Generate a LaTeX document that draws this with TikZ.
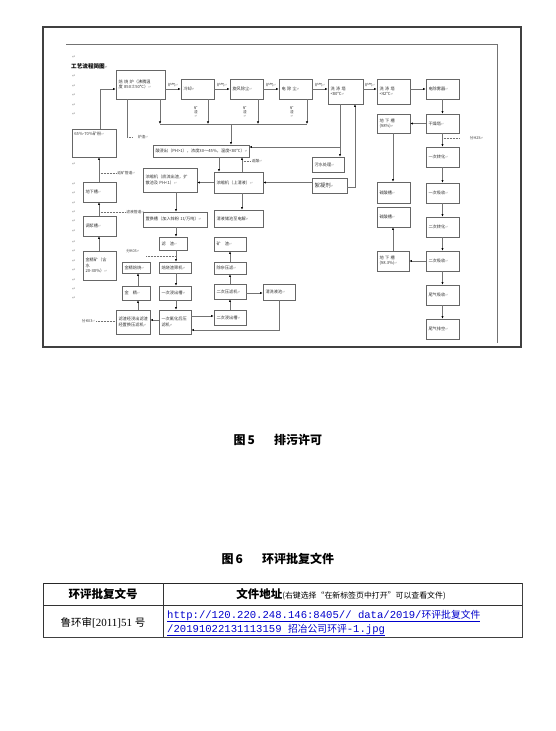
\documentclass[tikz,border=0pt]{standalone}
\usepackage{fontspec}
\setmainfont{Liberation Serif}
\setmonofont{Liberation Mono}
\newfontfamily\cjk{Noto Sans CJK SC}
\newfontfamily\dv{DejaVu Sans}
\usetikzlibrary{arrows.meta}
\newcommand\rt{{\dv\fontsize{3.4}{4}\selectfont\color{black!45}↵}}
\newcommand\rtm{{\dv\fontsize{4.5}{5}\selectfont\color{black!40}↵}}
\tikzset{
 bx/.style={draw=black!60, line width=0.7pt, fill=white, inner sep=0.4pt,
   font=\cjk\fontsize{4.2}{5.2}\selectfont, align=left, text=black!80},
 ar/.style={draw=black!55, line width=0.6pt, -{Latex[length=2.6pt,width=2.3pt,color=black]}},
 ln/.style={draw=black!55, line width=0.6pt},
 dl/.style={draw=black!55, line width=0.5pt, densely dotted},
 lb/.style={font=\cjk\fontsize{3.8}{4.5}\selectfont, text=black!75, inner sep=0.5pt},
 captn/.style={font=\cjk\bfseries\fontsize{12}{14}\selectfont, inner sep=0pt},
 tl/.style={draw=black!80, line width=0.5pt},
}
\newcommand\bxn[6]{\node[bx,minimum width={(#4-#2)*1pt},minimum height={(#5-#3)*1pt},text width={(#4-#2-5)*1pt}] (#1) at ({(#2+#4)/2},{(#3+#5)/2}) {#6};}
\begin{document}
\begin{tikzpicture}[x=1pt,y=-1pt]
\useasboundingbox (0,0) rectangle (555,731);
\fill[white] (0,0) rectangle (555,731);
% frame of the embedded figure
\draw[black!75, line width=1.1pt] (43,27) rectangle (521,347);
\draw[black!55, line width=0.6pt] (66,44) -- (497,44) -- (497,343);
% return marks on the left margin
\foreach \yy in {57,76,86,95,105,114,164,184,193,203,212,221,231,242,251,261,270,280,289,298}
  \node[inner sep=0pt] at (74,\yy) {\rtm};
\node[font=\cjk\bfseries\fontsize{5.6}{6.5}\selectfont, anchor=west, inner sep=0pt] (title) at (71,66) {工艺流程简图\rt};

% ---- boxes ----
\bxn{fsl}{116}{70}{165}{99}{焙 烧 炉（沸腾温\\度 850±50℃）\rt}
\bxn{lq}{181}{79}{214}{99}{冷却\rt}
\bxn{xf}{230}{79}{263}{99}{旋风除尘\rt}
\bxn{dc}{279}{79}{312}{99}{电 除 尘\rt}
\bxn{xda}{328}{79}{363}{104}{洗 涤 塔\\<80℃\rt}
\bxn{xdb}{377}{79}{410}{104}{洗 涤 塔\\<42℃\rt}
\bxn{dcw}{426}{79}{459}{99}{电除雾器\rt}
\bxn{gz}{426}{114}{459}{133}{干燥塔\rt}
\bxn{dxa}{377}{114}{410}{133}{地 下 槽\\(98\%)\rt}
\bxn{zha}{426}{147}{459}{167}{一次转化\rt}
\bxn{xsa}{426}{183}{459}{203}{一次吸收\rt}
\bxn{zhb}{426}{217}{459}{237}{二次转化\rt}
\bxn{xsb}{426}{251}{459}{271}{二次吸收\rt}
\bxn{dxb}{377}{251}{409}{271}{地 下 槽\\(98.3\%)\rt}
\bxn{wq}{426}{285}{459}{305}{尾气吸收\rt}
\bxn{wp}{426}{319}{459}{339}{尾气排空\rt}
\bxn{lca}{377}{182}{410}{203}{硫酸槽\rt}
\bxn{lcb}{377}{207}{410}{227}{硫酸槽\rt}
\bxn{ws}{312}{157}{344}{172}{污水处理\rt}
\bxn{xn}{312}{178}{347}{193}{\fontsize{5.4}{6}\selectfont 絮凝剂\rt}
\bxn{fg}{153}{145}{249}{157}{酸浸出（PH>1），浓度30～45\%，温度<80℃）\rt}
\bxn{ns}{214}{172}{263}{193}{浓缩机（上清液）\rt}
\bxn{dj}{143}{168}{197}{192}{浓缩机（底流出渣，扩\\散池及 PH<1）\rt}
\bxn{cq}{214}{210}{263}{227}{清液储池至电解\rt}
\bxn{zhc}{143}{212}{207}{227}{置换槽（加入锌粉 1t/万吨）\rt}
\bxn{lz}{159}{237}{187}{250}{滤　渣\rt}
\bxn{ss}{159}{262}{191}{273}{焙烧渣筛机\rt}
\bxn{jjb}{122}{262}{150}{273}{金精焙烧\rt}
\bxn{jj}{122}{286}{150}{300}{金　精\rt}
\bxn{jca}{159}{286}{191}{300}{一次浸出槽\rt}
\bxn{lzs}{116}{310}{150}{334}{滤渣经浸出滤渣\\经置换压滤机\rt}
\bxn{yla}{159}{310}{191}{334}{一次氰化后压\\滤机\rt}
\bxn{jcb}{214}{310}{246}{325}{二次浸出槽\rt}
\bxn{ylb}{214}{284}{246}{299}{二次压滤机\rt}
\bxn{cz}{214}{262}{246}{274}{除杂压滤\rt}
\bxn{kz}{214}{237}{246}{251}{矿　渣\rt}
\bxn{qx}{263}{284}{295}{300}{清洗液池\rt}
\bxn{m65}{72}{129}{116}{157}{}
\node[lb, font=\cjk\fontsize{4.2}{5}\selectfont, anchor=north west] (m65t) at ([xshift=2pt,yshift=-3pt]m65.north west) {65\%-70\%矿粉\rt};
\bxn{dxc}{83}{182}{116}{202}{地下槽\rt}
\bxn{tj}{83}{216}{116}{236}{调浆槽\rt}
\bxn{jjk}{83}{251}{116}{280}{金精矿（含\\水\\20-30\%）\rt}

% ---- helper coordinates ----
\coordinate (a1) at (100,89);
\coordinate (k1) at (160,124); \coordinate (k2) at (208,124);
\coordinate (k3) at (258,124); \coordinate (k4) at (307,124);
\coordinate (k5) at (231,124);
\coordinate (s1) at (127,137);
\coordinate (w1) at (340,147); \coordinate (w2) at (355,187);
\coordinate (f1) at (219,160); \coordinate (f2) at (242,161);
\coordinate (c1) at (176,200); \coordinate (c2) at (176,256);
\coordinate (d1) at (99,173); \coordinate (d2) at (99,212);
\coordinate (l1) at (150,320); \coordinate (l2) at (138,305);
\coordinate (q1) at (279,330);
\coordinate (y1) at (230,316); \coordinate (y2) at (255,293);
\coordinate (r1) at (442,138); \coordinate (r2) at (393,150);
\coordinate (t1) at (96,321);

% ---- top row ----
\draw[ar] (m65.north -| a1) -- (a1) -- (fsl.west |- a1);
\draw[ar] (fsl.east |- lq.west) -- (lq.west) node[lb, midway, above=1.5pt] {炉气\rt};
\draw[ar] (lq.east) -- (xf.west) node[lb, midway, above=1.5pt] {炉气\rt};
\draw[ar] (xf.east) -- (dc.west) node[lb, midway, above=1.5pt] {炉气\rt};
\draw[ar] (dc.east) -- (dc.east -| xda.west) node[lb, midway, above=1.5pt] {炉气\rt};
\draw[ar] (xda.east |- dc.east) -- (xdb.west |- dc.east) node[lb, midway, above=1.5pt] {炉气\rt};
\draw[ar] (xdb.east |- dcw.west) -- (dcw.west);
\draw[ar] (dcw.south) -- (gz.north);
\draw[ar] (gz.west) -- (dxa.east);
\draw[ar] (gz.south) -- (zha.north);
\draw[dl] (r1) -- (460,138) node[lb, right=9pt] {分H2S\rt};
\draw[ar] (zha.south) -- (xsa.north);
\draw[ar] (xsa.south) -- (zhb.north);
\draw[ar] (zhb.south) -- (xsb.north);
\draw[ar] (xsb.south) -- (wq.north);
\draw[ar] (wq.south) -- (wp.north);
\draw[ar] (xsb.west) -- (dxb.east);
\draw[ar] (dxa.south -| r2) -- (lca.north -| r2);
\draw[ar] (dxb.north -| r2) -- (lcb.south -| r2);

% ---- slag collection ----
\draw[ar] (fsl.south -| k1) -- (k1);
\draw[ar] (lq.south -| k2) -- (k2);
\draw[ar] (xf.south -| k3) -- (k3);
\draw[ar] (dc.south -| k4) -- (k4);
\draw[ln] (k1) -- (k4);
\draw[ar] (k5) -- (k5 |- fg.north);
\node[lb, align=center, font=\cjk\fontsize{3.6}{4}\selectfont] at (196,112) {矿\\渣\\\rt};
\node[lb, align=center, font=\cjk\fontsize{3.6}{4}\selectfont] at (245,112) {矿\\渣\\\rt};
\node[lb, align=center, font=\cjk\fontsize{3.6}{4}\selectfont] at (292,112) {矿\\渣\\\rt};
\draw[ln] (fsl.south -| s1) -- (s1);
\draw[dl] (s1) -- ++(6,0) node[lb, right=4pt] {炉渣\rt};

% ---- washing water ----
\draw[ln] (xda.south -| w1) -- (w1);
\draw[ar] (w1) -- (fg.east |- w1);
\draw[ar] (w1) -- (w1 |- ws.north);
\draw[ar] (xn.east |- w2) -- (w2) -- (w2 |- xda.south);
\draw[ar] (xn.west |- ns.east) -- (ns.east);

% ---- leaching ----
\draw[ar] (fg.south -| f1) -- (ns.north -| f1);
\draw[ar] (ns.north -| f2) -- (fg.south -| f2);
\draw[dl] (f2) -- ++(8,0) node[lb, right=1pt] {返酸\rt};
\draw[ar] (ns.west) -- (dj.east |- ns.west);
\draw[ar] (ns.south -| f2) -- (cq.north -| f2);
\draw[ar] (dj.south -| c1) -- (zhc.north -| c1);
\draw[ar] (zhc.south -| c1) -- (lz.north -| c1);
\draw[ar] (lz.south -| c1) -- (ss.north -| c1);
\draw[dl] (146,256) -- (c2);
\node[lb] at (133,251) {分K03\rt};
\draw[ar] (ss.south -| c1) -- (jca.north -| c1);
\draw[ar] (jca.south -| c1) -- (yla.north -| c1);
\draw[ar] (yla.west |- l1) -- (lzs.east |- l1);
\draw[ar] (lzs.north -| l2) -- (jj.south -| l2);
\draw[ar] (jj.north -| l2) -- (jjb.south -| l2);
\draw[dl] (t1) -- (lzs.west |- t1);
\node[lb, anchor=east] at (t1) {分K03\rt};
\draw[ar] (yla.east |- y1) -- (jcb.west |- y1);
\draw[ar] (jcb.north) -- (ylb.south);
\draw[ar] (ylb.north) -- (cz.south);
\draw[ar] (cz.north) -- (kz.south);
\draw[ar] (ylb.east |- y2) -- (qx.west |- y2);
\draw[ar] (qx.south -| q1) -- (q1) -- (yla.east |- q1);

% ---- left column ----
\draw[ar] (dxc.north -| d1) -- (m65.south -| d1);
\draw[ar] (tj.north -| d1) -- (dxc.south -| d1);
\draw[ar] (jjk.north -| d1) -- (tj.south -| d1);
\draw[dl] (d1) -- ++(17,0) node[lb, right=0.5pt] {返矿管道\rt};
\draw[dl] (d2) -- ++(26,0) node[lb, right=0.5pt] {滤液管道\rt};

% ---- captions ----
\node[captn] (cap5) at (278,440) {图\,5\hspace{1.6em}排污许可};
\node[captn] (cap6) at (278,559) {图\,6\hspace{1.6em}环评批复文件};

% ---- table ----
\draw[black!85, line width=0.9pt] (43,583) -- (522,583);
\draw[tl] (43,583) -- (43,637);
\draw[black!75, line width=1pt] (43,637) -- (522,637) -- (522,583);
\draw[tl] (43,605) -- (522,605);
\draw[tl] (163,583) -- (163,637);
\node[font=\cjk\bfseries\fontsize{11.5}{13}\selectfont, inner sep=0pt] (th1) at (103,594) {环评批复文号};
\node[inner sep=0pt] (th2) at (341,594) {\cjk\fontsize{11.5}{13}\selectfont\bfseries 文件地址\mdseries\fontsize{7.9}{9}\selectfont(右键选择“在新标签页中打开”可以查看文件)};
\node[inner sep=0pt] (td1) at (103,623) {\fontsize{11}{13}\selectfont{\cjk\fontsize{10.5}{12}\selectfont 鲁环审}[2011]51 {\cjk\fontsize{10.5}{12}\selectfont 号}};
\node[anchor=west, inner sep=0pt, text=blue!80!black] (lk1) at (167,616)
  {\underline{\ttfamily\fontsize{10.6}{12}\selectfont http://120.220.248.146:8405//\ data/2019/{\cjk\fontsize{9.8}{11}\selectfont 环评批复文件}}};
\node[anchor=west, inner sep=0pt, text=blue!80!black] (lk2) at (167,630)
  {\underline{\ttfamily\fontsize{10.6}{12}\selectfont /20191022131113159\ {\cjk\fontsize{9.8}{11}\selectfont 招冶公司环评}-1.jpg}};
\end{tikzpicture}
\end{document}
